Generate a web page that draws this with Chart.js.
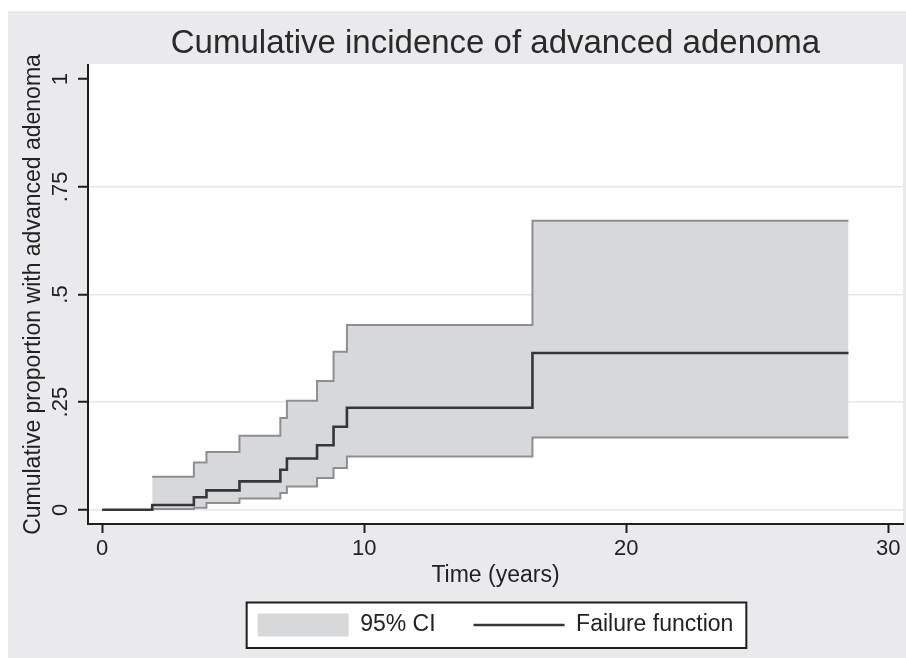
<!DOCTYPE html>
<html>
<head>
<meta charset="utf-8">
<title>Cumulative incidence of advanced adenoma</title>
<script src="https://cdn.jsdelivr.net/npm/chart.js@4.4.1/dist/chart.umd.min.js"></script>
<style>
	html, body { margin: 0; padding: 0; background: #ffffff; }
	canvas { display: block; }
</style>
</head>
<body>
<canvas id="incidenceChart" width="906" height="658"></canvas>
<script>
// step times (years) and cumulative failure with its 95% CI
const times = [0, 1.91, 3.50, 3.98, 5.24, 6.80, 7.05, 8.20, 8.83, 9.34, 16.42, 28.48];
const failure = [0, 0.011, 0.029, 0.045, 0.066, 0.093, 0.119, 0.150, 0.193, 0.237, 0.364, 0.364];
const ciUpper = [null, 0.077, 0.110, 0.134, 0.172, 0.213, 0.253, 0.299, 0.367, 0.429, 0.671, 0.671];
const ciLower = [null, 0.002, 0.005, 0.016, 0.026, 0.039, 0.054, 0.074, 0.097, 0.124, 0.168, 0.168];

const xTicks = [0, 10, 20, 30];
const yTicks = [0, 0.25, 0.5, 0.75, 1];
const yTickLabels = ['0', '.25', '.5', '.75', '1'];

const inkColor = '#1e1e1e';
const textColor = '#222222';
const bandColor = '#d7d8da';
const ciLineColor = '#8e8e92';
const failureColor = '#363636';

Chart.defaults.font.family = "'Liberation Sans', Arial, Helvetica, sans-serif";

function toPoints(values) {
	return times
		.map((t, i) => ({ x: t, y: values[i] }))
		.filter(p => p.y !== null);
}

// grey page, white plot region and the framed legend box
const stataBackground = {
	id: 'stataBackground',
	beforeDraw: function (chart) {
		const ctx = chart.ctx;
		const area = chart.chartArea;
		ctx.save();
		ctx.fillStyle = '#ffffff';
		ctx.fillRect(0, 0, chart.width, chart.height);
		ctx.fillStyle = '#eaeaec';
		ctx.fillRect(8, 11, chart.width - 8, chart.height - 11);
		ctx.fillStyle = '#ffffff';
		ctx.fillRect(area.left, area.top - 1, area.right - area.left, area.bottom - area.top + 1);

		const boxes = chart.legend && chart.legend.legendHitBoxes;
		if (boxes && boxes.length) {
			const first = boxes[0];
			const last = boxes[boxes.length - 1];
			const left = first.left - 11;
			const right = last.left + last.width + 13;
			const top = first.top - 11;
			const bottom = first.top + first.height + 11.5;
			ctx.fillStyle = '#ffffff';
			ctx.fillRect(left, top, right - left, bottom - top);
			ctx.strokeStyle = inkColor;
			ctx.lineWidth = 2;
			ctx.strokeRect(left, top, right - left, bottom - top);
		}
		ctx.restore();
	}
};

new Chart(document.getElementById('incidenceChart'), {
	type: 'line',
	data: {
		datasets: [{
			label: 'Failure function',
			data: toPoints(failure),
			borderColor: failureColor,
			borderWidth: 2.6,
			stepped: 'before',
			pointRadius: 0,
			fill: false
		}, {
			label: 'Upper 95% CI',
			data: toPoints(ciUpper),
			borderColor: ciLineColor,
			backgroundColor: bandColor,
			borderWidth: 2,
			stepped: 'before',
			pointRadius: 0,
			fill: '+1'
		}, {
			label: 'Lower 95% CI',
			data: toPoints(ciLower),
			borderColor: ciLineColor,
			borderWidth: 2,
			stepped: 'before',
			pointRadius: 0,
			fill: false
		}]
	},
	options: {
		responsive: false,
		animation: false,
		events: [],
		layout: {
			padding: { top: 0, left: 0, right: 3, bottom: 11.5 }
		},
		scales: {
			x: {
				type: 'linear',
				min: -0.54,
				max: 30.56,
				afterBuildTicks: function (scale) {
					scale.ticks = xTicks.map(v => ({ value: v }));
				},
				afterFit: function (scale) {
					scale.height = 51.5;
				},
				grid: {
					drawOnChartArea: false,
					tickLength: 9,
					tickColor: inkColor,
					tickWidth: 2
				},
				border: {
					color: inkColor,
					width: 2
				},
				ticks: {
					color: textColor,
					font: { size: 22 },
					padding: 3,
					maxRotation: 0,
					autoSkip: false
				},
				title: {
					display: true,
					text: 'Time (years)',
					color: textColor,
					font: { size: 23 },
					padding: { top: 0, bottom: -14.3 }
				}
			},
			y: {
				type: 'linear',
				min: -0.033,
				max: 1.033,
				afterBuildTicks: function (scale) {
					scale.ticks = yTicks.map(v => ({ value: v }));
				},
				afterFit: function (scale) {
					scale.width = 88;
				},
				grid: {
					color: ctx => (ctx.tick && ctx.tick.value === 1) ? 'rgba(0,0,0,0)' : '#e6e6e8',
					lineWidth: 1.5,
					tickLength: 10,
					tickColor: inkColor,
					tickWidth: 2
				},
				border: {
					color: inkColor,
					width: 2
				},
				ticks: {
					callback: (value, index) => yTickLabels[index],
					color: textColor,
					font: { size: 22 },
					minRotation: 90,
					maxRotation: 90,
					crossAlign: 'center',
					padding: 2,
					autoSkip: false
				},
				title: {
					display: true,
					text: 'Cumulative proportion with advanced adenoma',
					color: textColor,
					font: { size: 23 },
					padding: { top: 19.5, bottom: 0 }
				}
			}
		},
		plugins: {
			filler: {
				drawTime: 'beforeDatasetsDraw'
			},
			title: {
				display: true,
				text: 'Cumulative incidence of advanced adenoma',
				fullSize: false,
				color: '#2a2a2a',
				font: { size: 33, weight: 'normal' },
				padding: { top: 24, bottom: 1.4 }
			},
			legend: {
				position: 'bottom',
				fullSize: false,
				labels: {
					usePointStyle: true,
					pointStyleWidth: 91,
					boxHeight: 23,
					padding: 38,
					color: textColor,
					font: { size: 23 },
					generateLabels: function () {
						return [{
							text: '95% CI',
							fillStyle: bandColor,
							strokeStyle: bandColor,
							lineWidth: 0,
							pointStyle: 'rect',
							fontColor: textColor,
							hidden: false,
							datasetIndex: 1
						}, {
							text: 'Failure function',
							fillStyle: failureColor,
							strokeStyle: failureColor,
							lineWidth: 2.6,
							pointStyle: 'line',
							fontColor: textColor,
							hidden: false,
							datasetIndex: 0
						}];
					}
				}
			},
			tooltip: {
				enabled: false
			}
		}
	},
	plugins: [stataBackground]
});
</script>
</body>
</html>
